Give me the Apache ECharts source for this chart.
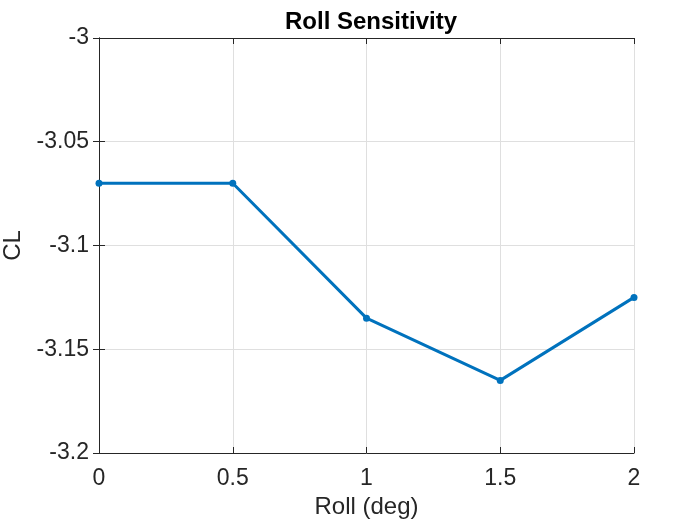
<!DOCTYPE html>
<html><head><meta charset="utf-8">
<script src="https://cdn.jsdelivr.net/npm/echarts@6/dist/echarts.min.js"></script>
<style>html,body{margin:0;padding:0;background:#fff}#c{width:700px;height:525px}</style>
</head><body><div id="c"></div>
<script>
const rollDeg = [0, 0.5, 1, 1.5, 2];
const clValues = [-3.07, -3.07, -3.135, -3.165, -3.125];
const xTicks = [0, 0.5, 1, 1.5, 2];
const yTicks = [-3.2, -3.15, -3.1, -3.05, -3];

const font = "'Liberation Sans', Arial, Helvetica, sans-serif";
const fmt = v => String(+(+v).toFixed(2));
const chart = echarts.init(document.getElementById('c'), null, {renderer: 'canvas'});
const axLine = {show: true, lineStyle: {color: '#262626', width: 1}};
const tick = {show: true, inside: true, length: 6, lineStyle: {color: '#262626'}};
chart.setOption({
  animation: false,
  backgroundColor: '#fff',
  title: {text: 'Roll Sensitivity', left: 366, top: 5, textAlign: 'center',
    textStyle: {fontFamily: font, fontWeight: 'bold', fontSize: 24, color: '#000'}},
  grid: {left: 99, right: 66, top: 38, bottom: 72, containLabel: false, outerBoundsMode: 'none'},
  xAxis: [{
    type: 'value', min: xTicks[0], max: xTicks[xTicks.length-1], interval: 0.5,
    position: 'bottom',
    name: 'Roll (deg)', nameLocation: 'middle', nameGap: 38,
    nameTextStyle: {fontFamily: font, fontSize: 24, color: '#262626'},
    axisLine: axLine, axisTick: tick,
    axisLabel: {fontFamily: font, fontSize: 23, color: '#262626', margin: 14, formatter: fmt},
    splitLine: {show: true, lineStyle: {color: '#dfdfdf', width: 1}}
  }, {
    type: 'value', min: xTicks[0], max: xTicks[xTicks.length-1], interval: 0.5,
    position: 'top', axisLine: axLine, axisTick: tick, axisLabel: {show: false}, splitLine: {show: false}
  }],
  yAxis: [{
    type: 'value', min: yTicks[0], max: yTicks[yTicks.length-1], interval: 0.05,
    position: 'left',
    name: 'CL', nameLocation: 'middle', nameGap: 66, nameRotate: 90,
    nameTextStyle: {fontFamily: font, fontSize: 24, color: '#262626'},
    axisLine: axLine, axisTick: tick,
    axisLabel: {fontFamily: font, fontSize: 23, color: '#262626', margin: 10, formatter: fmt},
    splitLine: {show: true, lineStyle: {color: '#dfdfdf', width: 1}}
  }, {
    type: 'value', min: yTicks[0], max: yTicks[yTicks.length-1], interval: 0.05,
    position: 'right', axisLine: axLine, axisTick: tick, axisLabel: {show: false}, splitLine: {show: false}
  }],
  series: [{
    type: 'line',
    data: rollDeg.map((x, i) => [x, clValues[i]]),
    xAxisIndex: 0, yAxisIndex: 0,
    lineStyle: {color: '#0072BD', width: 3},
    itemStyle: {color: '#0072BD'},
    symbol: 'circle', symbolSize: 7, showSymbol: true,
    clip: false
  }]
});
</script></body></html>
